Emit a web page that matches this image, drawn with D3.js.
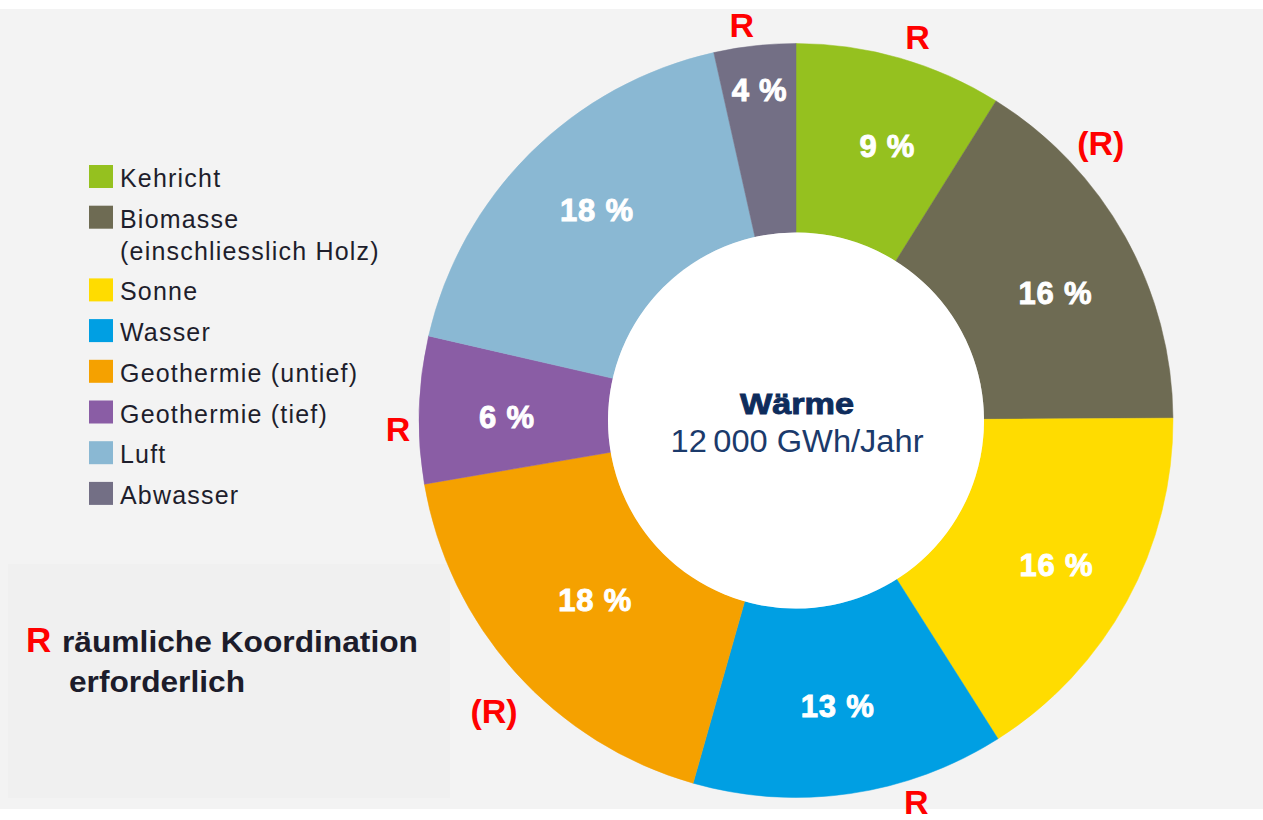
<!DOCTYPE html>
<html><head><meta charset="utf-8">
<script src="https://cdn.jsdelivr.net/npm/d3@7"></script>
<style>html,body{margin:0;padding:0;background:#fff;}svg{display:block;}</style>
</head><body>
<script>
// ---- data ----
const categories = ["Kehricht","Biomasse","Sonne","Wasser","Geothermie (untief)","Geothermie (tief)","Luft","Abwasser"];
const legendLabels = [["Kehricht"],["Biomasse","(einschliesslich Holz)"],["Sonne"],["Wasser"],["Geothermie (untief)"],["Geothermie (tief)"],["Luft"],["Abwasser"]];
const shares = [8.9, 16.0, 16.1, 13.4, 17.9, 6.3, 17.9, 3.5];
const colors = ["#95c11f","#6e6b53","#ffdc00","#009fe3","#f5a100","#8a5da5","#8ab8d3","#736f85"];
const markers = ["R","(R)","","R","(R)","R","","R"];
const centerTitle = "Wärme";
const centerValue = "12\u2009000 GWh/Jahr";
const noteMarker = "R";
const noteLines = ["räumliche Koordination","erforderlich"];

// ---- layout ----
const W = 1263, H = 820;
const cx = 796, cy = 420.5, rOuter = 377, rInner = 188;
const svg = d3.select("body").append("svg").attr("width", W).attr("height", H);
const font = "'Liberation Sans', Arial, Helvetica, sans-serif";

svg.append("rect").attr("x",0).attr("y",9).attr("width",W).attr("height",800).attr("fill","#f3f3f3");
svg.append("rect").attr("x",8).attr("y",564).attr("width",442).attr("height",234).attr("fill","#f0f0f0");

const pie = d3.pie().sort(null).value(d => d.v);
const data = categories.map((c,i) => ({c, v: shares[i], color: colors[i], m: markers[i]}));
const arcs = pie(data);
const arc = d3.arc().innerRadius(rInner).outerRadius(rOuter);

const g = svg.append("g").attr("transform", `translate(${cx},${cy})`);
g.selectAll("path.slice").data(arcs).join("path")
  .attr("class","slice").attr("d", arc).attr("fill", d => d.data.color)
  .attr("stroke", d => d.data.color).attr("stroke-width", 0.5);

// inner white disc
g.append("circle").attr("r", rInner).attr("fill", "#fff");

// percent labels
const deg = Math.PI/180;
const labelR = {"Abwasser": 332, "Geothermie (untief)": 270, "Sonne": 298};
const labelShift = {"Kehricht": 2.4*deg, "Biomasse": 3*deg, "Luft": 1.3*deg, "Geothermie (tief)": -1*deg, "Sonne": 0.5*deg};
const fmt = d3.format(".0f");
g.selectAll("text.pct").data(arcs).join("text")
  .attr("class","pct")
  .attr("transform", d => {
    const a = (d.startAngle + d.endAngle)/2 + (labelShift[d.data.c] || 0);
    const r = labelR[d.data.c] || 289;
    return `translate(${r*Math.sin(a)},${-r*Math.cos(a)})`;
  })
  .attr("text-anchor","middle").attr("dominant-baseline","central")
  .attr("fill","#fff").attr("stroke","#fff").attr("stroke-width",0.9)
  .attr("font-family", font).attr("font-weight","bold")
  .attr("font-size", 31).attr("letter-spacing", 0.8)
  .text(d => fmt(d.data.v) + " %");

// R markers
const markerPos = {"Kehricht": [17.6, 402], "Biomasse": [47.7, 412], "Wasser": [162.5, 400],
  "Geothermie (untief)": [226.1, 419], "Geothermie (tief)": [268.8, 398], "Abwasser": [352.2, 399]};
g.selectAll("text.mk").data(arcs.filter(d => d.data.m)).join("text")
  .attr("class","mk")
  .attr("transform", d => {
    const [dg, r] = markerPos[d.data.c];
    const a = dg*deg;
    return `translate(${r*Math.sin(a)},${-r*Math.cos(a)})`;
  })
  .attr("text-anchor","middle").attr("dominant-baseline","central")
  .attr("fill","#ff0000").attr("font-family", font).attr("font-weight","bold")
  .attr("font-size", 34)
  .text(d => d.data.m);

// center text
g.append("text").attr("x",1).attr("y",-7).attr("text-anchor","middle")
  .attr("fill","#0e2c5c").attr("stroke","#0e2c5c").attr("stroke-width",0.9)
  .attr("font-family", font).attr("font-weight","900")
  .attr("font-size", 29).attr("textLength",114).attr("lengthAdjust","spacingAndGlyphs")
  .text(centerTitle);
g.append("text").attr("x",1).attr("y",31).attr("text-anchor","middle")
  .attr("fill","#1b3a6b").attr("font-family", font)
  .attr("font-size", 31).attr("textLength",253).attr("lengthAdjust","spacingAndGlyphs")
  .text(centerValue);

// legend
const leg = svg.append("g");
let y = 187;
legendLabels.forEach((lines, i) => {
  leg.append("rect").attr("x",89).attr("y", y-22).attr("width",24).attr("height",23)
    .attr("fill", colors[i]);
  lines.forEach((t, j) => {
    leg.append("text").attr("x",120).attr("y", y + j*32)
      .attr("fill","#1e1e2c").attr("font-family", font).attr("font-size",25)
      .attr("letter-spacing",1.2).text(t);
  });
  y += 40.7 + (lines.length-1)*32;
});

// note
svg.append("text").attr("x",26).attr("y",652).attr("fill","#ff0000")
  .attr("font-family", font).attr("font-weight","bold").attr("font-size",35).text(noteMarker);
svg.append("text").attr("x",62).attr("y",652).attr("fill","#1c1c2b")
  .attr("font-family", font).attr("font-weight","bold").attr("font-size",30)
  .attr("textLength",356).attr("lengthAdjust","spacingAndGlyphs").text(noteLines[0]);
svg.append("text").attr("x",69).attr("y",692).attr("fill","#1c1c2b")
  .attr("font-family", font).attr("font-weight","bold").attr("font-size",30)
  .attr("textLength",176).attr("lengthAdjust","spacingAndGlyphs").text(noteLines[1]);
</script>
</body></html>
